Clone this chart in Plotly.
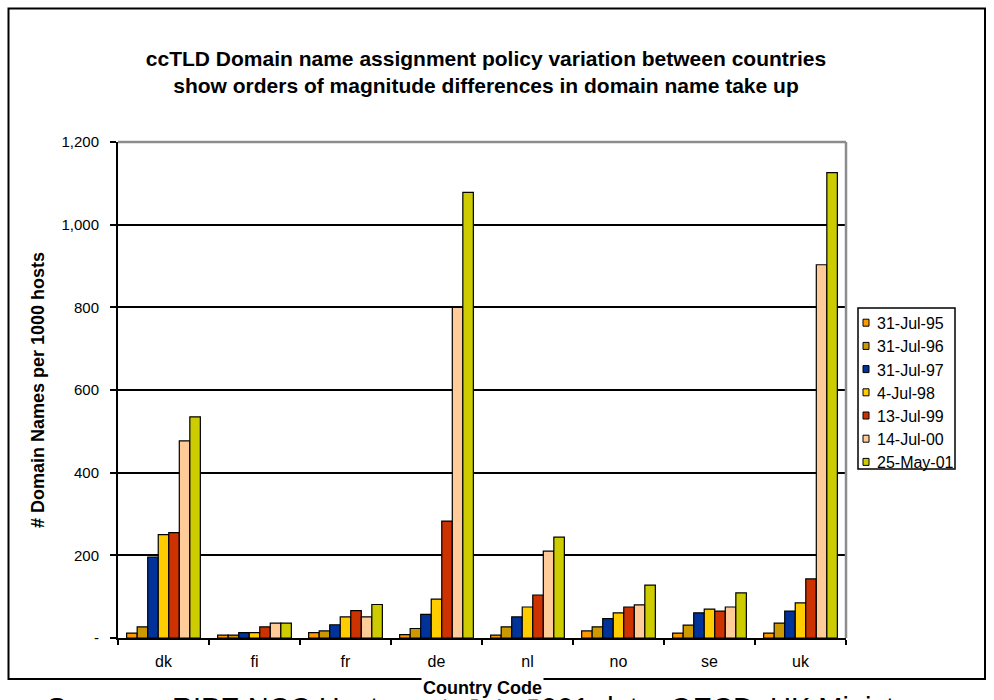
import plotly.graph_objects as go

# Domain names per 1000 hosts, by ccTLD and snapshot date
countries = ["dk", "fi", "fr", "de", "nl", "no", "se", "uk"]
dates = ["31-Jul-95", "31-Jul-96", "31-Jul-97", "4-Jul-98", "13-Jul-99", "14-Jul-00", "25-May-01"]

jul95 = [12, 7, 13, 8, 7, 17, 12, 12]
jul96 = [27, 7, 17, 23, 27, 27, 31, 36]
jul97 = [196, 13, 32, 57, 51, 47, 61, 65]
jul98 = [250, 13, 51, 94, 75, 61, 70, 85]
jul99 = [255, 27, 66, 283, 104, 75, 65, 143]
jul00 = [477, 36, 51, 800, 210, 80, 75, 903]
may01 = [535, 36, 81, 1078, 244, 128, 109, 1126]

series = [jul95, jul96, jul97, jul98, jul99, jul00, may01]
colors = ["#FF9900", "#CC9900", "#003399", "#FFCC00", "#CC3300", "#FFCC99", "#CCCC00"]

y_ticks = [0, 200, 400, 600, 800, 1000, 1200]
y_tick_text = ["-", "200", "400", "600", "800", "1,000", "1,200"]

FONT = "Liberation Sans, Arial, sans-serif"
W, H = 994, 700
L, R, T, B = 118, 148, 142, 62
PW, PH = W - L - R, H - T - B


def px(x):
    return (x - L) / PW


def py(y):
    return (H - B - y) / PH


fig = go.Figure()
for name, vals, col in zip(dates, series, colors):
    fig.add_trace(go.Bar(
        x=countries, y=vals, name=name, showlegend=False,
        marker=dict(color=col, line=dict(color="black", width=1.2)),
    ))

fig.update_layout(
    width=W, height=H,
    margin=dict(l=L, r=R, t=T, b=B),
    paper_bgcolor="white", plot_bgcolor="white",
    font=dict(family=FONT, color="black", size=15),
    barmode="group", bargap=0.19, bargroupgap=0,
    title=dict(
        text="<b>ccTLD Domain name assignment policy variation between countries<br>"
             "show orders of magnitude differences in domain name take up</b>",
        x=486 / W, xanchor="center", y=1 - 66 / H, yanchor="middle",
        font=dict(size=21, family=FONT),
    ),
    xaxis=dict(
        type="category", tickson="boundaries", ticks="outside", ticklen=5,
        tickwidth=2, tickcolor="black", showline=True, linecolor="black",
        linewidth=2, showgrid=False, tickfont=dict(size=16),
        ticklabelstandoff=8,
    ),
    yaxis=dict(
        range=[0, 1200], tickvals=y_ticks, ticktext=y_tick_text,
        ticks="outside", ticklen=6, tickwidth=2, tickcolor="black",
        showline=True, linecolor="black", linewidth=2,
        showgrid=True, gridcolor="black", gridwidth=1.5, zeroline=False,
        tickfont=dict(size=15), ticklabelstandoff=8,
        title=dict(text="<b># Domain Names per 1000 hosts</b>",
                   font=dict(size=18), standoff=12),
    ),
    showlegend=False,
)

# plot-area border (top and right) and the outer chart frame
fig.add_shape(type="line", xref="paper", yref="paper", x0=0, x1=1, y0=1, y1=1,
              line=dict(color="#8c8c8c", width=2.5))
fig.add_shape(type="line", xref="paper", yref="paper", x0=1, x1=1, y0=0, y1=1,
              line=dict(color="#8c8c8c", width=2.5))
fig.add_shape(type="rect", xref="paper", yref="paper",
              x0=px(8.5), x1=px(985), y0=py(8.5), y1=py(679),
              line=dict(color="black", width=2), layer="above")

# legend: framed box with a small swatch and label per date
LEG_X0, LEG_X1, LEG_Y0, LEG_Y1 = 858, 955, 308, 469
ROW0, ROW_STEP = 322.7, 23.2
fig.add_shape(type="rect", xref="paper", yref="paper",
              x0=px(LEG_X0), x1=px(LEG_X1), y0=py(LEG_Y0), y1=py(LEG_Y1),
              line=dict(color="black", width=1.5), fillcolor="white")
for i, (name, col) in enumerate(zip(dates, colors)):
    yc = ROW0 + i * ROW_STEP
    fig.add_shape(type="rect", xref="paper", yref="paper",
                  x0=px(863), x1=px(869), y0=py(yc - 3.5), y1=py(yc + 3.5),
                  line=dict(color="black", width=1), fillcolor=col)
    fig.add_annotation(text=name, xref="paper", yref="paper",
                       x=px(875), y=py(yc + 1), xanchor="left", yanchor="middle",
                       showarrow=False, font=dict(size=16, family=FONT))

# source line below the frame
fig.add_annotation(text="Source:", xref="paper", yref="paper",
                   x=px(45), y=py(690), xanchor="left", yanchor="top",
                   showarrow=False, font=dict(size=29, family=FONT))
fig.add_annotation(text="RIPE NCC Hostcount, July 2001 data, OECD, UK Ministry",
                   xref="paper", yref="paper",
                   x=px(170), y=py(690), xanchor="left", yanchor="top",
                   showarrow=False, font=dict(size=29, family=FONT))
# x axis title
fig.add_annotation(text="<b>Country Code</b>", xref="paper", yref="paper",
                   x=px(482), y=py(688), xanchor="center", yanchor="middle",
                   showarrow=False, bgcolor="white",
                   font=dict(size=18, family=FONT))

fig.write_html("out.html")
